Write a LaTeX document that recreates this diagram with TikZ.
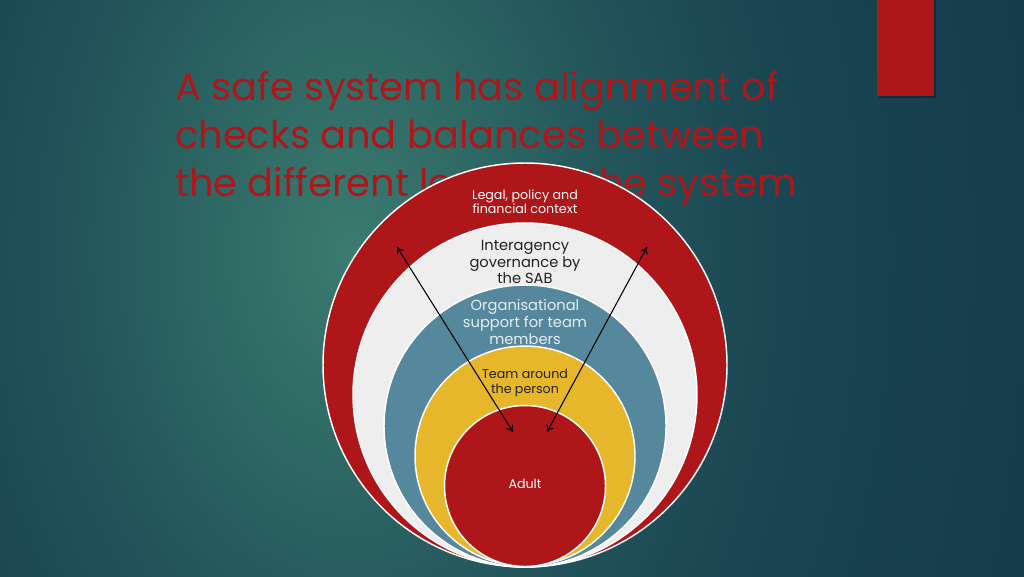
\documentclass[tikz,border=0pt]{standalone}
\usepackage{fontspec}
\setmainfont{Poppins}
\usetikzlibrary{arrows.meta}
\definecolor{bg0}{HTML}{3B7B70}
\definecolor{bg1}{HTML}{2E6864}
\definecolor{bg2}{HTML}{22545A}
\definecolor{bg3}{HTML}{1A4552}
\definecolor{bg4}{HTML}{153B4A}
\definecolor{accent}{HTML}{AE161A}
\definecolor{ringwhite}{HTML}{EEEEEE}
\definecolor{ringblue}{HTML}{55879D}
\definecolor{ringyellow}{HTML}{E7B72B}
\definecolor{darktext}{HTML}{222222}
\definecolor{lighttext}{HTML}{E6EEF3}
\pgfdeclareradialshading{bgshade}{\pgfpoint{0bp}{0bp}}{color(0bp)=(bg0); color(3.5bp)=(bg1); color(7bp)=(bg2); color(11bp)=(bg3); color(18bp)=(bg4); color(50bp)=(bg4)}
\tikzset{
  ring/.style={draw=white, line width=1.1pt},
  titletext/.style={anchor=base west, inner sep=0pt, text=accent, font=\fontsize{28.8}{36}\selectfont},
  smalltxt/.style={align=center, inner sep=0pt, font=\fontsize{9.5}{10.8}\selectfont},
  bigtxt/.style={align=center, inner sep=0pt, font=\fontsize{11}{12.4}\selectfont},
  link/.style={black, line width=0.8pt, {To[length=5pt,width=6pt]}-{To[length=5pt,width=6pt]}}
}
\begin{document}
\begin{tikzpicture}[x=0.75pt,y=-0.75pt]
\useasboundingbox (0,0) rectangle (1024,576);
\begin{scope}
  \clip (0,0) rectangle (1024,576);
  \shade[shading=bgshade] (350,250) ellipse [x radius=1000, y radius=1500];
\end{scope}
% accent bar
\fill[black, opacity=0.3] (879,0) rectangle (936,98);
\fill[accent] (877,0) rectangle (934,96);
% title
\node[titletext] (t1) at (175,100) {A safe system has alignment of};
\node[titletext] (t2) at (175,148) {checks and balances between};
\node[titletext] (t3) at (175,196) {the different levels of the system};
% rings
\fill[accent, ring] (525,365) circle (202);
\node[smalltxt, text=white] (legal) at (525,202) {Legal, policy and\\financial context};
\fill[ringwhite, ring] (525,395) circle (172);
\node[bigtxt, text=darktext] (inter) at (525,262) {Interagency\\governance by\\the SAB};
\fill[ringblue, ring] (525,426) circle (141);
\node[bigtxt, text=lighttext] (org) at (525,322) {Organisational\\support for team\\members};
\fill[ringyellow, ring] (525,456) circle (110);
\node[smalltxt, text=darktext] (team) at (525,383) {Team around\\the person};
\fill[accent, ring] (525,486) circle (80.5);
\node[smalltxt, text=white] (adult) at (525,484) {Adult};
% arrows
\coordinate (la) at (397,247);
\coordinate (lb) at (513,432);
\coordinate (ra) at (647,247);
\coordinate (rb) at (547,432);
\draw[link] (la) -- (lb);
\draw[link] (ra) -- (rb);
\end{tikzpicture}
\end{document}
